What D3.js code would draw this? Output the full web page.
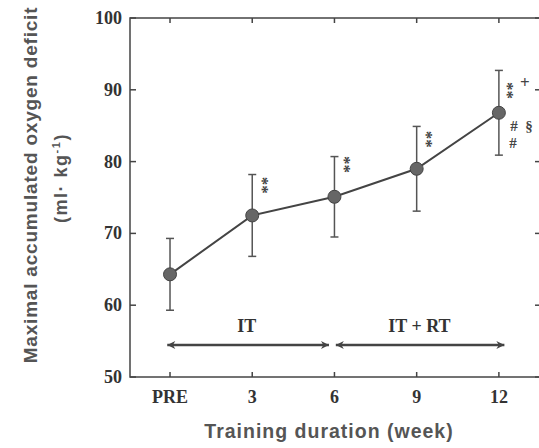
<!DOCTYPE html>
<meta charset="utf-8">
<script src="https://d3js.org/d3.v7.min.js"></script>
<style>
  body { margin: 0; background: white; }
  .tick-label { font-family: "Liberation Serif", serif; font-weight: bold; font-size: 18px; fill: #333; }
  .title { font-family: "Liberation Sans", Arial, sans-serif; font-weight: bold; fill: #555; }
  .sig { font-family: "Liberation Serif", serif; font-weight: bold; fill: #444; }
</style>
<div id="chart"></div>
<script>
// weeks of training (PRE = 0)
var weeks = [0, 3, 6, 9, 12];
var weekLabels = ["PRE", "3", "6", "9", "12"];
var means = [64.3, 72.5, 75.1, 79.0, 86.8];
var sds = [5.0, 5.7, 5.6, 5.9, 5.9];
var yTicks = [50, 60, 70, 80, 90, 100];

// significance marks
var starWeeks = [3, 6, 9, 12];
var starLevels = [76.7, 79.6, 83.1, 89.9];
var otherSyms = ["+", "#", "§", "#"];
var otherLevels = [90.9, 84.9, 84.9, 82.6];

var W = 539, H = 448;
var plotL = 130, plotR = 540, plotT = 18, plotB = 377;

var svg = d3.select("#chart").append("svg")
    .attr("width", W).attr("height", H);

var x = d3.scaleLinear().domain([-1.46, 13.5]).range([plotL, plotR]);
var y = d3.scaleLinear().domain([50, 100]).range([plotB, plotT]);

var ink = "#444";

// frame
svg.append("rect")
    .attr("x", plotL).attr("y", plotT)
    .attr("width", plotR - plotL).attr("height", plotB - plotT)
    .attr("fill", "none").attr("stroke", ink).attr("stroke-width", 1.5);

// x ticks (inward, top and bottom)
weeks.forEach(function(w) {
  svg.append("line").attr("x1", x(w)).attr("x2", x(w))
    .attr("y1", plotB).attr("y2", plotB - 5).attr("stroke", ink).attr("stroke-width", 1.5);
  svg.append("line").attr("x1", x(w)).attr("x2", x(w))
    .attr("y1", plotT).attr("y2", plotT + 5).attr("stroke", ink).attr("stroke-width", 1.5);
});
svg.selectAll(".xl").data(weeks).enter().append("text")
    .attr("class", "tick-label")
    .attr("x", function(d) { return x(d); })
    .attr("y", plotB + 26)
    .attr("text-anchor", "middle")
    .text(function(d, i) { return weekLabels[i]; });

// y ticks (inward, left and right)
yTicks.forEach(function(v) {
  svg.append("line").attr("x1", plotL).attr("x2", plotL + 6)
    .attr("y1", y(v)).attr("y2", y(v)).attr("stroke", ink).attr("stroke-width", 1.5);
  svg.append("line").attr("x1", plotR - 5).attr("x2", plotR)
    .attr("y1", y(v)).attr("y2", y(v)).attr("stroke", ink).attr("stroke-width", 1.5);
});
svg.selectAll(".yl").data(yTicks).enter().append("text")
    .attr("class", "tick-label")
    .attr("x", plotL - 8)
    .attr("y", function(d) { return y(d) + 6; })
    .attr("text-anchor", "end")
    .text(function(d) { return d; });

// titles
svg.append("text").attr("class", "title")
    .attr("transform", "translate(37,185) rotate(-90)")
    .attr("text-anchor", "middle").style("font-size", "19px")
    .style("letter-spacing", "0.8px")
    .text("Maximal accumulated oxygen deficit");
var t2 = svg.append("text").attr("class", "title")
    .attr("transform", "translate(67,178) rotate(-90)")
    .attr("text-anchor", "middle").style("font-size", "18px")
    .style("letter-spacing", "1.5px");
t2.append("tspan").text("(ml· kg");
t2.append("tspan").attr("dy", -7).style("font-size", "11px").text("-1");
t2.append("tspan").attr("dy", 7).text(")");

svg.append("text").attr("class", "title")
    .attr("x", 329).attr("y", 438)
    .attr("text-anchor", "middle").style("font-size", "19.5px")
    .style("letter-spacing", "1px")
    .text("Training duration (week)");

// error bars
var data = weeks.map(function(w, i) { return {w: w, m: means[i], s: sds[i]}; });
data.forEach(function(d) {
  var cx = x(d.w);
  svg.append("line").attr("x1", cx).attr("x2", cx)
    .attr("y1", y(d.m - d.s)).attr("y2", y(d.m + d.s))
    .attr("stroke", "#555").attr("stroke-width", 1.5);
  [d.m - d.s, d.m + d.s].forEach(function(v) {
    svg.append("line").attr("x1", cx - 4).attr("x2", cx + 4)
      .attr("y1", y(v)).attr("y2", y(v))
      .attr("stroke", "#555").attr("stroke-width", 1.5);
  });
});

// line + points
svg.append("path").datum(data)
    .attr("d", d3.line().x(function(d) { return x(d.w); }).y(function(d) { return y(d.m); }))
    .attr("fill", "none").attr("stroke", ink).attr("stroke-width", 2);
svg.selectAll("circle").data(data).enter().append("circle")
    .attr("cx", function(d) { return x(d.w); })
    .attr("cy", function(d) { return y(d.m); })
    .attr("r", 6.5)
    .attr("fill", "#666").attr("stroke", "#444").attr("stroke-width", 1);

// "**" stacked vertically (rotated) next to each error bar
starWeeks.forEach(function(w, i) {
  var cx = x(w) + (w === 12 ? 13 : 14);
  svg.append("text").attr("class", "sig")
    .attr("transform", "translate(" + (cx - 9.5) + "," + y(starLevels[i]) + ") rotate(90)")
    .attr("text-anchor", "middle").style("font-size", "17px")
    .text("**");
});
// other marks at week 12
var otherDx = [26, 15, 30, 14];
otherSyms.forEach(function(s, i) {
  svg.append("text").attr("class", "sig")
    .attr("x", x(12) + otherDx[i])
    .attr("y", y(otherLevels[i]) + 5)
    .attr("text-anchor", "middle").style("font-size", s === "+" ? "17px" : "15px")
    .text(s);
});

// training phase arrows
var ay = 345;
var defs = svg.append("defs");
defs.append("marker").attr("id", "ah").attr("viewBox", "0 0 10 10")
    .attr("refX", 10).attr("refY", 5).attr("markerWidth", 14).attr("markerHeight", 8)
    .attr("markerUnits", "userSpaceOnUse").attr("orient", "auto-start-reverse")
    .append("path").attr("d", "M0,0 L10,5 L0,10 L3,5 Z").attr("fill", ink);
[[-0.1, 5.8], [6.05, 12.2]].forEach(function(s) {
  svg.append("line").attr("x1", x(s[0])).attr("x2", x(s[1]))
    .attr("y1", ay).attr("y2", ay)
    .attr("stroke", ink).attr("stroke-width", 2.5)
    .attr("marker-start", "url(#ah)").attr("marker-end", "url(#ah)");
});
svg.append("text").attr("class", "tick-label")
    .attr("x", x(2.8)).attr("y", 332).attr("text-anchor", "middle").text("IT");
svg.append("text").attr("class", "tick-label")
    .attr("x", x(9.1)).attr("y", 332).attr("text-anchor", "middle").text("IT + RT");
</script>
